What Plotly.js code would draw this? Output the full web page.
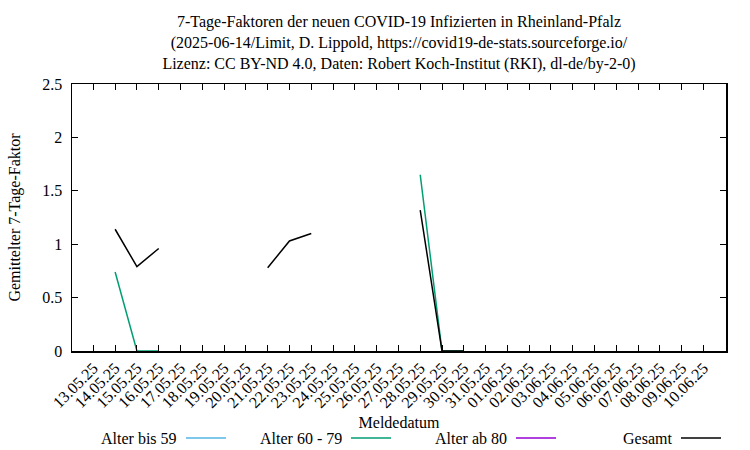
<!DOCTYPE html>
<html>
<head>
<meta charset="utf-8">
<script src="https://cdn.plot.ly/plotly-3.0.1.min.js"></script>
<style>
  html, body { margin: 0; padding: 0; background: #fff; }
  #chart { width: 750px; height: 450px; }
</style>
</head>
<body>
<div id="chart"></div>
<script>
// Meldedatum (one entry per day)
const dates = [
  "2025-05-13", "2025-05-14", "2025-05-15", "2025-05-16", "2025-05-17",
  "2025-05-18", "2025-05-19", "2025-05-20", "2025-05-21", "2025-05-22",
  "2025-05-23", "2025-05-24", "2025-05-25", "2025-05-26", "2025-05-27",
  "2025-05-28", "2025-05-29", "2025-05-30", "2025-05-31", "2025-06-01",
  "2025-06-02", "2025-06-03", "2025-06-04", "2025-06-05", "2025-06-06",
  "2025-06-07", "2025-06-08", "2025-06-09", "2025-06-10"
];
const tickLabels = [
  "13.05.25", "14.05.25", "15.05.25", "16.05.25", "17.05.25",
  "18.05.25", "19.05.25", "20.05.25", "21.05.25", "22.05.25",
  "23.05.25", "24.05.25", "25.05.25", "26.05.25", "27.05.25",
  "28.05.25", "29.05.25", "30.05.25", "31.05.25", "01.06.25",
  "02.06.25", "03.06.25", "04.06.25", "05.06.25", "06.06.25",
  "07.06.25", "08.06.25", "09.06.25", "10.06.25"
];

// 7-day factors per age group (null = no value)
const alterBis59 = [
  null, null, null, null, null, null, null, null, null, null,
  null, null, null, null, null, null, null, null, null, null,
  null, null, null, null, null, null, null, null, null
];
const alter60bis79 = [
  null, 0.74, 0, 0, null, null, null, null, null, null,
  null, null, null, null, null, 1.65, 0, 0, null, null,
  null, null, null, null, null, null, null, null, null
];
const alterAb80 = [
  null, null, null, null, null, null, null, null, null, null,
  null, null, null, null, null, null, null, null, null, null,
  null, null, null, null, null, null, null, null, null
];
const gesamt = [
  null, 1.14, 0.79, 0.96, null, null, null, null, 0.78, 1.03,
  1.10, null, null, null, null, 1.32, 0, 0, null, null,
  null, null, null, null, null, null, null, null, null
];

const seriesNames = ["Alter bis 59", "Alter 60 - 79", "Alter ab 80", "Gesamt"];
const seriesValues = [alterBis59, alter60bis79, alterAb80, gesamt];
const seriesColors = ["#56b4e9", "#009e73", "#9400d3", "#000000"];

const FONT = "'Liberation Serif', 'Times New Roman', serif";
const FONT_SIZE = 16;

// Plot area in pixels, used to place the gnuplot-style legend below the axes
const PLOT = { l: 72, r: 24, t: 84, b: 99 };
const PLOT_W = 750 - PLOT.l - PLOT.r;
const PLOT_H = 450 - PLOT.t - PLOT.b;

const traces = seriesNames.map(function (name, i) {
  return {
    x: dates,
    y: seriesValues[i],
    name: name,
    type: "scatter",
    mode: "lines",
    connectgaps: false,
    line: { color: seriesColors[i], width: 1.5 },
    showlegend: false,
  };
});

// Legend: text first, then the line sample (as gnuplot draws it)
const annotations = [];
const shapes = [];
const LEGEND_Y = 438;
seriesNames.forEach(function (name, i) {
  const textEnd = 179 + i * 165;
  annotations.push({
    text: name,
    xref: "paper",
    yref: "paper",
    x: (textEnd - PLOT.l) / PLOT_W,
    y: (450 - PLOT.b - LEGEND_Y) / PLOT_H,
    xanchor: "right",
    yanchor: "middle",
    showarrow: false,
    font: { family: FONT, size: FONT_SIZE, color: "#000" },
  });
  shapes.push({
    type: "line",
    xref: "paper",
    yref: "paper",
    x0: (textEnd + 7 - PLOT.l) / PLOT_W,
    x1: (textEnd + 47 - PLOT.l) / PLOT_W,
    y0: (450 - PLOT.b - LEGEND_Y) / PLOT_H,
    y1: (450 - PLOT.b - LEGEND_Y) / PLOT_H,
    line: { color: seriesColors[i], width: 1.5 },
  });
});

const layout = {
  width: 750,
  height: 450,
  margin: PLOT,
  paper_bgcolor: "#fff",
  plot_bgcolor: "#fff",
  font: { family: FONT, size: FONT_SIZE, color: "#000" },
  title: {
    text: "7-Tage-Faktoren der neuen COVID-19 Infizierten in Rheinland-Pfalz<br>" +
      "(2025-06-14/Limit, D. Lippold, https://covid19-de-stats.sourceforge.io/<br>" +
      "Lizenz: CC BY-ND 4.0, Daten: Robert Koch-Institut (RKI), dl-de/by-2-0)",
    font: { family: FONT, size: FONT_SIZE, color: "#000" },
    xref: "paper",
    x: 0.5,
    xanchor: "center",
    yref: "container",
    y: 0.94,
    yanchor: "top",
  },
  xaxis: {
    type: "date",
    range: ["2025-05-12 00:30", "2025-06-11 00:45"],
    tickvals: dates,
    ticktext: tickLabels,
    tickangle: -45,
    ticks: "inside",
    ticklen: 6,
    tickwidth: 1,
    tickcolor: "#000",
    showline: true,
    linecolor: "#000",
    linewidth: 1.5,
    mirror: "ticks",
    showgrid: false,
    zeroline: false,
    fixedrange: true,
    title: {
      text: "Meldedatum",
      font: { family: FONT, size: FONT_SIZE, color: "#000" },
      standoff: 6,
    },
  },
  yaxis: {
    range: [0, 2.5],
    tickvals: [0, 0.5, 1, 1.5, 2, 2.5],
    ticktext: ["0", "0.5", "1", "1.5", "2", "2.5"],
    ticks: "inside",
    ticklen: 6,
    tickwidth: 1,
    tickcolor: "#000",
    ticklabelstandoff: 5,
    showline: true,
    linecolor: "#000",
    linewidth: 1.5,
    mirror: "ticks",
    showgrid: false,
    zeroline: false,
    fixedrange: true,
    title: {
      text: "Gemittelter 7-Tage-Faktor",
      font: { family: FONT, size: FONT_SIZE, color: "#000" },
      standoff: 17,
    },
  },
  annotations: annotations,
  shapes: shapes,
  showlegend: false,
};

Plotly.newPlot("chart", traces, layout, { staticPlot: true, displayModeBar: false });
</script>
</body>
</html>
